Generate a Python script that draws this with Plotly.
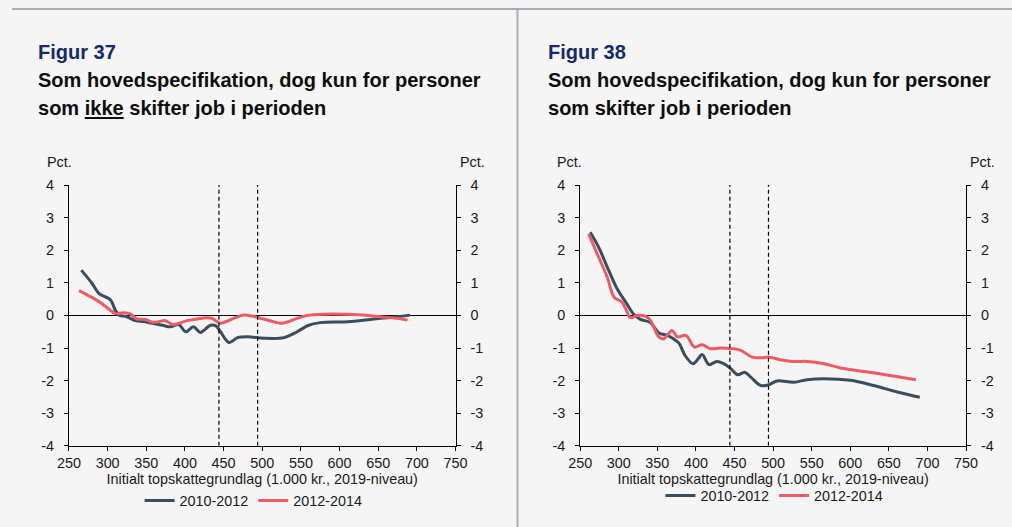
import plotly.graph_objects as go

# Layout positions below are written in screen pixels of a 1012x527 view; the
# page is captured slightly zoomed out and sits inside the default 8px body margin,
# so every position is converted to figure pixels with SX/SY, DX and OFF.
VIEW_W, VIEW_H = 1012, 527
SX, SY = 0.977, 0.971
DX = -3.5
OFF = 8
W = round(VIEW_W / SX) - OFF
H = round(VIEW_H / SY) - OFF

# Figur 37: personer som ikke skifter job
x37_a = [266, 280, 289, 297, 304, 310, 315, 325, 336, 347, 358, 371, 381, 392, 401, 411, 420, 433, 440,
         446, 457, 468, 481, 502, 528, 545, 560, 575, 610, 653, 675, 691]
y37_a = [1.39, 0.98, 0.67, 0.57, 0.47, 0.16, 0.01, -0.04, -0.16, -0.19, -0.24, -0.30, -0.35, -0.28, -0.50,
         -0.35, -0.52, -0.30, -0.32, -0.50, -0.83, -0.68, -0.65, -0.70, -0.68, -0.50, -0.30, -0.22, -0.19,
         -0.09, -0.04, 0.01]
x37_b = [263, 276, 289, 302, 310, 321, 330, 338, 349, 358, 366, 375, 384, 392, 403, 416, 427, 435, 446,
         455, 466, 476, 487, 498, 511, 524, 534, 545, 558, 580, 605, 631, 653, 675, 688]
y37_b = [0.76, 0.60, 0.42, 0.19, 0.06, 0.08, 0.04, -0.11, -0.12, -0.21, -0.19, -0.16, -0.28, -0.24, -0.16,
         -0.11, -0.07, -0.09, -0.24, -0.17, -0.06, 0.01, -0.02, -0.09, -0.17, -0.24, -0.19, -0.09, 0.00,
         0.04, 0.04, 0.01, -0.04, -0.09, -0.14]

# Figur 38: personer som skifter job
x38_a = [263, 274, 287, 299, 309, 320, 328, 341, 352, 363, 371, 378, 386, 396, 402, 408, 417, 427, 436,
         445, 454, 463, 471, 484, 494, 505, 527, 544, 566, 600, 630, 661, 690]
y38_a = [2.55, 2.09, 1.38, 0.77, 0.41, 0.02, -0.12, -0.22, -0.54, -0.61, -0.72, -0.85, -1.23, -1.48, -1.36,
         -1.20, -1.51, -1.41, -1.48, -1.63, -1.82, -1.74, -1.89, -2.15, -2.13, -2.01, -2.05, -1.97, -1.94,
         -1.99, -2.15, -2.35, -2.51]
x38_b = [261, 272, 285, 294, 304, 310, 315, 324, 335, 341, 352, 358, 369, 376, 387, 398, 408, 419, 432,
         447, 458, 473, 484, 496, 509, 525, 544, 566, 587, 630, 685]
y38_b = [2.50, 1.89, 1.18, 0.56, 0.41, 0.15, -0.07, 0.00, -0.03, -0.15, -0.66, -0.72, -0.46, -0.66, -0.61,
         -0.97, -0.90, -1.02, -1.00, -1.02, -1.07, -1.28, -1.30, -1.28, -1.36, -1.41, -1.41, -1.48, -1.61,
         -1.76, -1.97]

series_names = ["2010-2012", "2012-2014"]
series_colors = ["#374e5e", "#ef5a63"]
cutoffs = [444, 494]
x_ticks = list(range(250, 751, 50))
y_ticks = list(range(-4, 5))
y_ticktext = [str(v) for v in y_ticks]
x_title = "Initialt topskattegrundlag (1.000 kr., 2019-niveau)"

FONT = "Liberation Sans, Arial, sans-serif"
BG = "#f5f5f5"
ZOOM = 1 / ((SX + SY) / 2)
F_SMALL = 14 * ZOOM
F_TITLE = 19.5 * ZOOM


def px(x):
    return ((x + DX) / SX - OFF) / W


def py(y):
    return 1 - (y / SY - OFF) / H


fig = go.Figure()

# Each panel: left axis for the first series, mirrored right axis for the second
panels = [
    dict(xa="x", yas=["y", "y3"], legend="legend", data=[(x37_a, y37_a), (x37_b, y37_b)]),
    dict(xa="x2", yas=["y2", "y4"], legend="legend2", data=[(x38_a, y38_a), (x38_b, y38_b)]),
]
for p in panels:
    for (xs, ys), ya, name, col in zip(p["data"], p["yas"], series_names, series_colors):
        fig.add_trace(go.Scatter(
            x=xs, y=ys, name=name, mode="lines",
            line=dict(color=col, width=3, shape="spline", smoothing=1),
            xaxis=p["xa"], yaxis=ya, legend=p["legend"],
        ))

tickfont = dict(family=FONT, size=F_SMALL, color="#1a1a1a")
common_x = dict(range=[250, 750], tickvals=x_ticks, showgrid=False, zeroline=False,
                showline=True, linecolor="black", linewidth=1, ticks="outside",
                ticklen=4, tickcolor="black", tickfont=tickfont, ticklabelstandoff=0,
                title=dict(text=x_title, font=tickfont, standoff=0))
common_y = dict(range=[-4, 4], tickvals=y_ticks, ticktext=y_ticktext, showgrid=False,
                showline=True, linecolor="black", linewidth=1, ticks="outside",
                ticklen=4, tickcolor="black", tickfont=tickfont, ticklabelstandoff=7)

ydom = [py(446), py(185)]
fig.update_layout(
    xaxis=dict(domain=[px(68.3), px(455)], anchor="y", **common_x),
    xaxis2=dict(domain=[px(579.7), px(965.7)], anchor="y2", **common_x),
    yaxis=dict(domain=ydom, anchor="x", zeroline=True, zerolinecolor="black",
               zerolinewidth=1, **common_y),
    yaxis2=dict(domain=ydom, anchor="x2", zeroline=True, zerolinecolor="black",
                zerolinewidth=1, **common_y),
    yaxis3=dict(overlaying="y", anchor="x", side="right", zeroline=False, **common_y),
    yaxis4=dict(overlaying="y2", anchor="x2", side="right", zeroline=False, **common_y),
)

# Cut-off markers
for xa, ya in [("x", "y"), ("x2", "y2")]:
    for c in cutoffs:
        fig.add_shape(type="line", xref=xa, yref=ya, x0=c, x1=c, y0=-4, y1=4,
                      line=dict(color="black", width=1.2, dash="4px,3px"))

# Frame lines: top rule and the divider between the two panels
fig.add_shape(type="line", xref="paper", yref="paper", x0=0, x1=1, y0=py(8.8), y1=py(8.8),
              line=dict(color="#aeaaad", width=2))
fig.add_shape(type="line", xref="paper", yref="paper", x0=px(517), x1=px(517), y0=0, y1=py(8.8),
              line=dict(color="#aeaaad", width=2))

ann = []
titles = [
    (37, "Figur 37", ["Som hovedspecifikation, dog kun for personer",
                      "som <u>ikke</u> skifter job i perioden"]),
    (548, "Figur 38", ["Som hovedspecifikation, dog kun for personer",
                       "som skifter job i perioden"]),
]
for x0, fig_no, lines in titles:
    ann.append(dict(text=f"<b>{fig_no}</b>", x=px(x0 - 2), y=py(52), xanchor="left", yanchor="middle",
                    font=dict(family=FONT, size=F_TITLE, color="#152a6b")))
    for i, line in enumerate(lines):
        ann.append(dict(text=f"<b>{line}</b>", x=px(x0 - 2), y=py(80 + 28 * i), xanchor="left",
                        yanchor="middle", font=dict(family=FONT, size=F_TITLE, color="#0d0d0d")))

for xl, xr in [(45, 458), (556, 969)]:
    for xx in (xl, xr):
        ann.append(dict(text="Pct.", x=px(xx - 1), y=py(162), xanchor="left", yanchor="middle",
                        font=dict(family=FONT, size=F_SMALL, color="#1a1a1a")))

for a in ann:
    a.update(xref="paper", yref="paper", showarrow=False)

legend_common = dict(orientation="h", xanchor="center", yanchor="middle", bgcolor="rgba(0,0,0,0)",
                     font=dict(family=FONT, size=F_SMALL, color="#1a1a1a"), itemwidth=30,
                     tracegroupgap=0)

fig.update_layout(
    width=W, height=H,
    margin=dict(l=0, r=0, t=0, b=0),
    paper_bgcolor=BG,
    plot_bgcolor="rgba(0,0,0,0)",
    annotations=ann,
    showlegend=True,
    legend=dict(x=px(253), y=py(501), **legend_common),
    legend2=dict(x=px(774), y=py(496), **legend_common),
    hovermode=False,
)

fig.write_html("out.html")
